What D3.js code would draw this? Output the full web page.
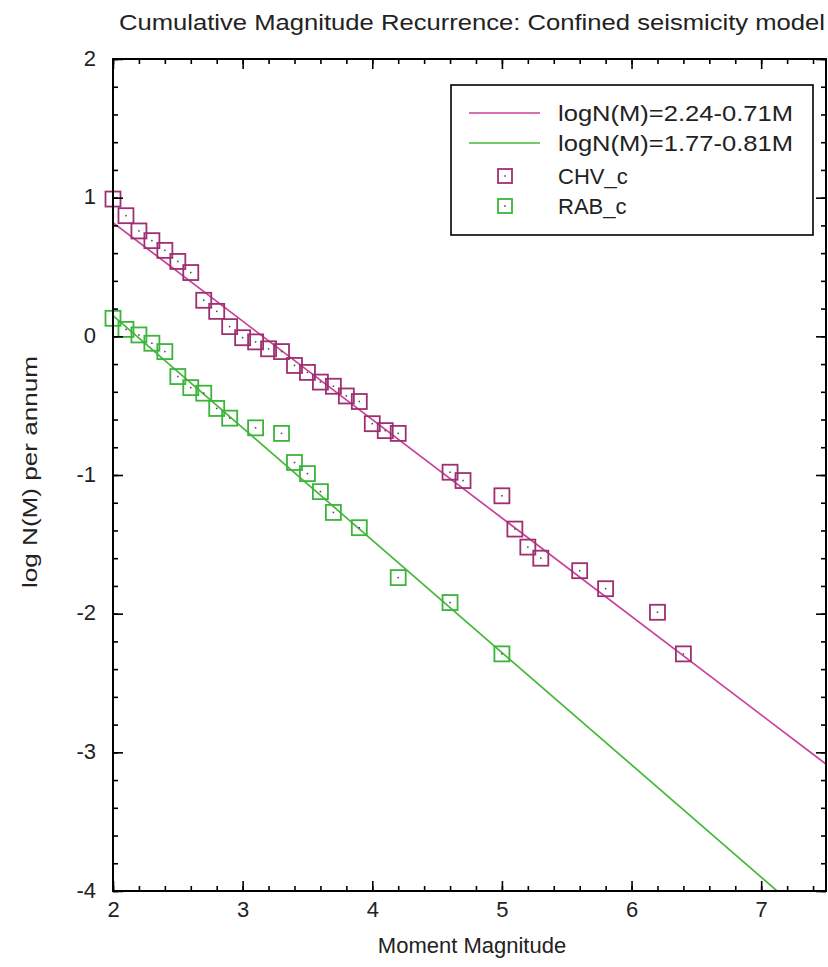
<!DOCTYPE html>
<html>
<head>
<meta charset="utf-8">
<script src="https://cdn.jsdelivr.net/npm/d3@7"></script>
<style>
  html, body { margin: 0; padding: 0; background: #fff; }
  svg { display: block; font-family: "Liberation Sans", Arial, sans-serif; }
</style>
</head>
<body>
<svg id="chart" width="828" height="967"></svg>
<script>
// Magnitude bins and cumulative rates, CHV_c source zone
const magCHV = [2.0, 2.1, 2.2, 2.3, 2.4, 2.5, 2.6, 2.7, 2.8, 2.9, 3.0, 3.1, 3.2, 3.3, 3.4, 3.5, 3.6, 3.7, 3.8, 3.9, 4.0, 4.1, 4.2,
                4.6, 4.7, 5.0, 5.1, 5.2, 5.3, 5.6, 5.8, 6.2, 6.4];
const logCHV = [0.99, 0.87, 0.76, 0.69, 0.62, 0.54, 0.46, 0.26, 0.18, 0.07, -0.01, -0.04, -0.09, -0.11, -0.21, -0.26, -0.33, -0.36, -0.43, -0.47, -0.63, -0.68, -0.70,
                -0.98, -1.04, -1.15, -1.39, -1.52, -1.60, -1.69, -1.82, -1.99, -2.29];

// Magnitude bins and cumulative rates, RAB_c source zone
const magRAB = [2.0, 2.1, 2.2, 2.3, 2.4, 2.5, 2.6, 2.7, 2.8, 2.9, 3.1, 3.3, 3.4, 3.5, 3.6, 3.7, 3.9, 4.2, 4.6, 5.0];
const logRAB = [0.13, 0.05, 0.01, -0.05, -0.11, -0.29, -0.37, -0.41, -0.52, -0.59, -0.66, -0.70, -0.91, -0.99, -1.12, -1.27, -1.38, -1.74, -1.92, -2.29];

// Gutenberg-Richter fits: logN(M) = a - bM
const fitNames = ["logN(M)=2.24-0.71M", "logN(M)=1.77-0.81M"];
const fitA = [2.24, 1.77];
const fitB = [0.71, 0.81];
const seriesNames = ["CHV_c", "RAB_c"];

const xTicks = [2, 3, 4, 5, 6, 7];
const yTicks = [2, 1, 0, -1, -2, -3, -4];

const titleText = "Cumulative Magnitude Recurrence: Confined seismicity model";
const xTitle = "Moment Magnitude";
const yTitle = "log N(M) per annum";

const lineColors = ["#c8409a", "#44b838"];
const markColors = ["#9c3070", "#3cb43c"];

const svg = d3.select("#chart");
const L = 113, R = 826, T = 59, B = 891;
const FONT = "'Liberation Sans', Arial, sans-serif";

const x = d3.scaleLinear().domain([2, 7.5]).range([L, R]);
const y = d3.scaleLinear().domain([-4, 2]).range([B, T]);

const minorX = d3.range(2, 7.5001, 0.2).map(v => +v.toFixed(1));
const minorY = d3.range(-4, 2.0001, 0.2).map(v => +v.toFixed(1));

// clip for the fit lines
svg.append("defs").append("clipPath").attr("id", "plotClip")
  .append("rect").attr("x", L).attr("y", T).attr("width", R - L).attr("height", B - T);

// fitted recurrence lines
const lineGen = d3.line().x(d => x(d[0])).y(d => y(d[1]));
const fitG = svg.append("g").attr("clip-path", "url(#plotClip)");
fitA.forEach((a, i) => {
  const pts = [2, 7.5].map(m => [m, a - fitB[i] * m]);
  fitG.append("path").attr("d", lineGen(pts))
    .attr("fill", "none").attr("stroke", lineColors[i]).attr("stroke-width", 1.7);
});

// observed rates as open squares with centre dot
const sq = 15;
function drawSquares(mags, vals, color) {
  const g = svg.append("g");
  mags.forEach((m, j) => {
    g.append("rect")
      .attr("x", x(m) - sq / 2).attr("y", y(vals[j]) - sq / 2)
      .attr("width", sq).attr("height", sq)
      .attr("fill", "none").attr("stroke", color).attr("stroke-width", 1.8);
    g.append("rect")
      .attr("x", x(m) - 0.75).attr("y", y(vals[j]) - 0.75)
      .attr("width", 1.5).attr("height", 1.5).attr("fill", "#444");
  });
}
drawSquares(magCHV, logCHV, markColors[0]);
drawSquares(magRAB, logRAB, markColors[1]);

// axes with inward ticks on all four sides
function styleAxis(g) {
  g.select(".domain").remove();
  g.selectAll(".tick line").attr("stroke", "#000").attr("stroke-width", 1.6);
}
svg.append("g").attr("transform", `translate(0,${B})`)
  .call(d3.axisBottom(x).tickValues(minorX).tickSize(-5).tickFormat("")).call(styleAxis);
svg.append("g").attr("transform", `translate(0,${T})`)
  .call(d3.axisTop(x).tickValues(minorX).tickSize(-5).tickFormat("")).call(styleAxis);
svg.append("g").attr("transform", `translate(${L},0)`)
  .call(d3.axisLeft(y).tickValues(minorY).tickSize(-5).tickFormat("")).call(styleAxis);
svg.append("g").attr("transform", `translate(${R},0)`)
  .call(d3.axisRight(y).tickValues(minorY).tickSize(-5).tickFormat("")).call(styleAxis);

const xAx = svg.append("g").attr("transform", `translate(0,${B})`)
  .call(d3.axisBottom(x).tickValues(xTicks).tickSize(-10).tickPadding(10).tickFormat(d3.format("d")))
  .call(styleAxis);
svg.append("g").attr("transform", `translate(0,${T})`)
  .call(d3.axisTop(x).tickValues(xTicks).tickSize(-10).tickFormat("")).call(styleAxis);
const yAx = svg.append("g").attr("transform", `translate(${L},0)`)
  .call(d3.axisLeft(y).tickValues(yTicks).tickSize(-10).tickPadding(17).tickFormat(d3.format("d")))
  .call(styleAxis);
svg.append("g").attr("transform", `translate(${R},0)`)
  .call(d3.axisRight(y).tickValues(yTicks).tickSize(-10).tickFormat("")).call(styleAxis);

xAx.selectAll("text").attr("font-size", 22).attr("fill", "#222").attr("font-family", FONT);
yAx.selectAll("text").attr("font-size", 22).attr("fill", "#222").attr("font-family", FONT)
  .attr("dy", "0.28em")
  .text(d => d < 0 ? "-" + Math.abs(d) : String(d));

// plot frame
svg.append("rect").attr("x", L).attr("y", T).attr("width", R - L).attr("height", B - T)
  .attr("fill", "none").attr("stroke", "#000").attr("stroke-width", 2);

// titles
svg.append("text").attr("x", 119).attr("y", 30)
  .attr("font-size", 22).attr("fill", "#222")
  .attr("textLength", 706).attr("lengthAdjust", "spacingAndGlyphs")
  .text(titleText);
svg.append("text").attr("x", 472).attr("y", 953)
  .attr("text-anchor", "middle").attr("font-size", 22).attr("fill", "#222")
  .text(xTitle);
svg.append("text").attr("transform", `translate(37,${472}) rotate(-90)`)
  .attr("text-anchor", "middle").attr("font-size", 21).attr("fill", "#222")
  .attr("textLength", 232).attr("lengthAdjust", "spacingAndGlyphs")
  .text(yTitle);

// legend
const lg = svg.append("g");
lg.append("rect").attr("x", 451).attr("y", 85).attr("width", 362).attr("height", 150)
  .attr("fill", "#fff").attr("stroke", "#000").attr("stroke-width", 1.6);
const rowY = [113, 143, 176, 206];
fitNames.forEach((name, i) => {
  lg.append("line").attr("x1", 469).attr("x2", 540).attr("y1", rowY[i]).attr("y2", rowY[i])
    .attr("stroke", lineColors[i]).attr("stroke-width", 1.7);
  lg.append("text").attr("x", 558).attr("y", rowY[i] + 8)
    .attr("font-size", 22).attr("fill", "#222")
    .attr("textLength", 235).attr("lengthAdjust", "spacingAndGlyphs")
    .text(name);
});
seriesNames.forEach((name, i) => {
  const cy = rowY[i + 2];
  lg.append("rect").attr("x", 505 - 7).attr("y", cy - 7).attr("width", 14).attr("height", 14)
    .attr("fill", "none").attr("stroke", markColors[i]).attr("stroke-width", 1.8);
  lg.append("rect").attr("x", 504.25).attr("y", cy - 0.75).attr("width", 1.5).attr("height", 1.5).attr("fill", "#444");
  lg.append("text").attr("x", 558).attr("y", cy + 8)
    .attr("font-size", 22).attr("fill", "#222")
    .text(name);
});
</script>
</body>
</html>
